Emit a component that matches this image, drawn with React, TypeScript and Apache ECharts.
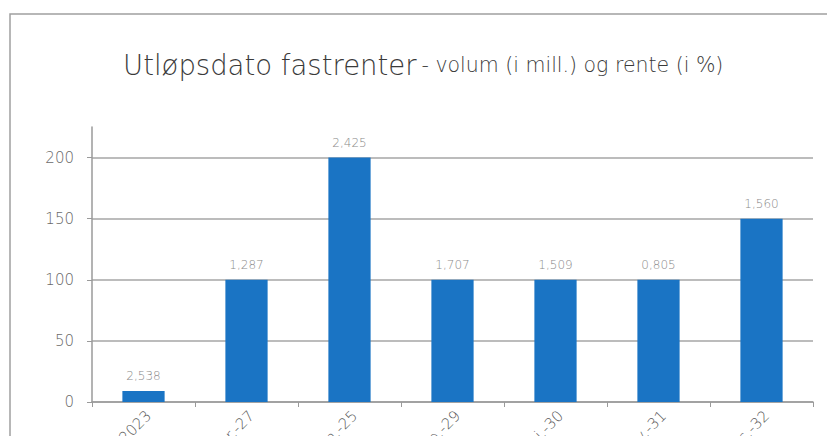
import React, { useEffect, useRef } from "react";
import * as echarts from "echarts";

const categories = ["okt.2023", "mar.-27", "jun.-25", "sep.-29", "mai.-30", "nov.-31", "des.-32"];
const volumes = [9, 100, 200, 100, 100, 100, 150];
const rates = ["2,538", "1,287", "2,425", "1,707", "1,509", "0,805", "1,560"];
const yTicks = [0, 50, 100, 150, 200];

export default function App() {
  const ref = useRef<HTMLDivElement>(null);
  useEffect(() => {
    const chart = echarts.init(ref.current!, null, { renderer: "svg" });
    const font = "'DejaVu Sans', sans-serif";
    chart.setOption({
      animation: false,
      backgroundColor: "#ffffff",
      title: {
        left: 118,
        top: 46,
        text: "{a|Utløpsdato fastrenter} {b|- volum (i mill.) og rente (i %)}",
        textStyle: {
          rich: {
            a: { fontFamily: font, fontSize: 27.5, color: "#3a3a3a", fontWeight: 200 },
            b: { fontFamily: font, fontSize: 20.5, color: "#3a3a3a", fontWeight: 200 },
          },
        },
      },
      graphic: [
        {
          type: "rect",
          shape: { x: 10, y: 14, width: 900, height: 500 },
          style: { fill: "none", stroke: "#a0a0a0", lineWidth: 1.5 },
          silent: true,
        },
      ],
      grid: { left: 92, right: 14, top: 127, bottom: 34, outerBoundsMode: "none", containLabel: false },
      xAxis: {
        type: "category",
        data: categories,
        axisLine: { lineStyle: { color: "#9a9a9a", width: 1.5 } },
        axisTick: { show: true, length: 5, lineStyle: { color: "#9a9a9a" } },
        axisLabel: {
          rotate: 45,
          margin: 6,
          verticalAlign: "top",
          fontFamily: font,
          fontSize: 15,
          fontWeight: 200,
          color: "#595959",
        },
      },
      yAxis: {
        type: "value",
        min: 0,
        max: 225,
        interval: 50,
        axisLine: { show: true, lineStyle: { color: "#9a9a9a", width: 1.5 } },
        axisTick: { show: true, length: 5, lineStyle: { color: "#9a9a9a" } },
        axisLabel: {
          margin: 18,
          fontFamily: font,
          fontSize: 15,
          fontWeight: 200,
          color: "#6a6a6a",
          showMaxLabel: false,
          formatter: (v: number) => (yTicks.includes(v) ? String(v) : ""),
        },
        splitLine: {
          show: true,
          lineStyle: {
            color: ["#a6a6a6", "#a6a6a6", "#a6a6a6", "#a6a6a6", "#a6a6a6", "rgba(0,0,0,0)"],
            width: 1.5,
          },
        },
      },
      series: [
        {
          type: "bar",
          data: volumes,
          barWidth: "41%",
          itemStyle: { color: "#1a74c4" },
          label: {
            show: true,
            position: "top",
            distance: 9,
            fontFamily: font,
            fontSize: 12,
            fontWeight: 200,
            color: "#8a8a8a",
            formatter: (p: any) => rates[p.dataIndex],
          },
        },
      ],
    });
    return () => chart.dispose();
  }, []);
  return (
    <div
      ref={ref}
      style={{ position: "fixed", left: 0, top: 0, width: 827, height: 436 }}
    />
  );
}
